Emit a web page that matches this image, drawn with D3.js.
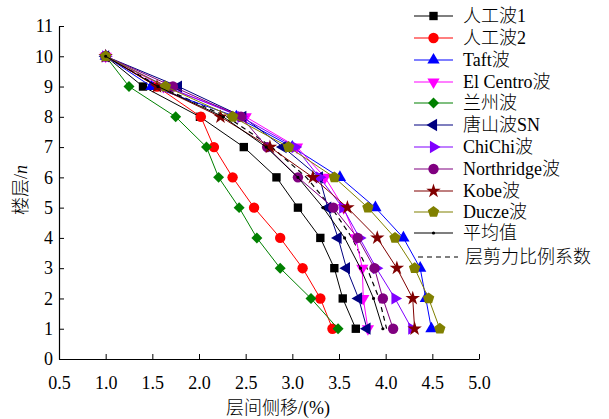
<!DOCTYPE html>
<html>
<head>
<meta charset="utf-8">
<script src="https://cdn.jsdelivr.net/npm/d3@7/dist/d3.min.js"></script>
<style>
  html, body { margin: 0; padding: 0; background: #fff; }
  svg { display: block; }
  text { font-family: "Liberation Serif", "Times New Roman", "Noto Sans CJK SC", serif; fill: #000; }
  .cjk { font-weight: 300; }
</style>
</head>
<body>
<svg id="chart" width="609" height="419"></svg>
<script>
// Storey numbers, top to bottom
const floors = [10, 9, 8, 7, 6, 5, 4, 3, 2, 1];

// Inter-storey drift (%) for each record, listed from floor 10 down to floor 1
const artificial1 = [1.00, 1.40, 2.01, 2.48, 2.83, 3.06, 3.30, 3.45, 3.54, 3.68];
const artificial2 = [1.00, 1.55, 2.02, 2.16, 2.36, 2.59, 2.87, 3.11, 3.30, 3.43];
const taft        = [1.00, 1.49, 2.40, 3.00, 3.51, 3.89, 4.19, 4.37, 4.43, 4.49];
const elCentro    = [1.00, 1.62, 2.50, 3.05, 3.35, 3.55, 3.68, 3.75, 3.76, 3.81];
const lanzhou     = [1.00, 1.25, 1.75, 2.08, 2.21, 2.43, 2.62, 2.87, 3.20, 3.49];
const tangshan    = [1.00, 1.78, 2.47, 2.90, 3.29, 3.38, 3.49, 3.58, 3.71, 3.80];
const chichi      = [1.00, 1.65, 2.45, 3.03, 3.29, 3.54, 3.72, 3.90, 4.10, 4.28];
const northridge  = [1.00, 1.72, 2.45, 2.73, 3.06, 3.44, 3.70, 3.88, 3.97, 4.08];
const kobe        = [1.00, 1.55, 2.23, 2.76, 3.22, 3.59, 3.91, 4.12, 4.29, 4.31];
const ducze       = [1.00, 1.64, 2.36, 2.96, 3.45, 3.81, 4.10, 4.31, 4.46, 4.58];
const average     = [1.00, 1.56, 2.26, 2.72, 3.06, 3.33, 3.56, 3.73, 3.87, 3.97];
const shearRatio  = [1.00, 1.58, 2.30, 2.78, 3.15, 3.42, 3.64, 3.80, 3.93, 4.01];

// Axis ticks
const xTicks = [0.5, 1.0, 1.5, 2.0, 2.5, 3.0, 3.5, 4.0, 4.5, 5.0];
const yTicks = [0, 1, 2, 3, 4, 5, 6, 7, 8, 9, 10, 11];

const svg = d3.select("#chart");

const x = d3.scaleLinear().domain([0.5, 5.0]).range([59, 479]);
const y = d3.scaleLinear().domain([0, 11]).range([359, 26]);

// Regular pentagon marker
const symbolPentagon = {
  draw(ctx, size) {
    const r = Math.sqrt(size / (2.5 * Math.sin(2 * Math.PI / 5)));
    for (let i = 0; i < 5; i++) {
      const a = -Math.PI / 2 + i * 2 * Math.PI / 5;
      const px = r * Math.cos(a), py = r * Math.sin(a);
      if (i === 0) ctx.moveTo(px, py); else ctx.lineTo(px, py);
    }
    ctx.closePath();
  }
};

const series = [
  { name: "人工波1",       values: artificial1, color: "#000000", type: d3.symbolSquare,   size: 70, rot: 0 },
  { name: "人工波2",       values: artificial2, color: "#ff0000", type: d3.symbolCircle,   size: 85, rot: 0 },
  { name: "Taft波",        values: taft,        color: "#0000ff", type: d3.symbolTriangle, size: 65, rot: 0 },
  { name: "El Centro波",   values: elCentro,    color: "#ff00ff", type: d3.symbolTriangle, size: 65, rot: 180 },
  { name: "兰州波",        values: lanzhou,     color: "#008000", type: d3.symbolSquare,   size: 60, rot: 45 },
  { name: "唐山波SN",      values: tangshan,    color: "#000080", type: d3.symbolTriangle, size: 65, rot: -90 },
  { name: "ChiChi波",      values: chichi,      color: "#8000ff", type: d3.symbolTriangle, size: 65, rot: 90 },
  { name: "Northridge波",  values: northridge,  color: "#800080", type: d3.symbolCircle,   size: 85, rot: 0 },
  { name: "Kobe波",        values: kobe,        color: "#800000", type: d3.symbolStar,     size: 65, rot: 0 },
  { name: "Ducze波",       values: ducze,       color: "#808000", type: symbolPentagon,    size: 85, rot: 0 },
  { name: "平均值",        values: average,     color: "#000000", type: d3.symbolCircle,   size: 8,  rot: 0 }
];

const line = d3.line()
  .x(d => x(d.v))
  .y(d => y(d.f));

const plot = svg.append("g");

// Shear-ratio reference curve (dashed, no markers)
plot.append("path")
  .datum(floors.map((f, i) => ({ f, v: shearRatio[i] })))
  .attr("fill", "none")
  .attr("stroke", "#000")
  .attr("stroke-width", 1.2)
  .attr("stroke-dasharray", "5,4")
  .attr("d", line);

series.forEach(s => {
  const pts = floors.map((f, i) => ({ f, v: s.values[i] }));
  const g = plot.append("g");
  g.append("path")
    .datum(pts)
    .attr("fill", "none")
    .attr("stroke", s.color)
    .attr("stroke-width", 1)
    .attr("d", line);
  g.selectAll("path.m")
    .data(pts)
    .join("path")
    .attr("class", "m")
    .attr("d", d3.symbol().type(s.type).size(s.size))
    .attr("transform", d => `translate(${x(d.v)},${y(d.f)}) rotate(${s.rot})`)
    .attr("fill", s.color);
});

// Axes: only left and bottom, ticks pointing into the plot
const xAxis = d3.axisBottom(x).tickValues(xTicks).tickFormat(d3.format(".1f"))
  .tickSizeInner(-5).tickSizeOuter(0).tickPadding(17);
const yAxis = d3.axisLeft(y).tickValues(yTicks).tickFormat(d3.format("d"))
  .tickSizeInner(-5).tickSizeOuter(0).tickPadding(6);

const gx = svg.append("g").attr("transform", "translate(0,359)").call(xAxis);
const gy = svg.append("g").attr("transform", "translate(59,0)").call(yAxis);
[gx, gy].forEach(g => {
  g.select(".domain").attr("stroke", "#000").attr("stroke-width", 1.2);
  g.selectAll(".tick line").attr("stroke", "#000").attr("stroke-width", 1);
  g.selectAll(".tick text").attr("font-size", 18)
    .style("font-family", '"Liberation Serif", "Times New Roman", serif');
});

// Axis titles
svg.append("text")
  .attr("class", "cjk")
  .attr("x", 278).attr("y", 414)
  .attr("text-anchor", "middle")
  .attr("font-size", 18)
  .text("层间侧移/(%)");

const yt = svg.append("text")
  .attr("class", "cjk")
  .attr("transform", "translate(27,190) rotate(-90)")
  .attr("text-anchor", "middle")
  .attr("font-size", 18);
yt.append("tspan").text("楼层/");
yt.append("tspan").attr("font-style", "italic").text("n");

// Legend
const legend = svg.append("g");
const rowY = [16, 38, 60, 82, 103, 125, 147, 169, 191, 212, 233];
series.forEach((s, i) => {
  const g = legend.append("g").attr("transform", `translate(0,${rowY[i]})`);
  g.append("line")
    .attr("x1", 414).attr("x2", 453).attr("y1", 0).attr("y2", 0)
    .attr("stroke", s.color).attr("stroke-width", 1.2);
  g.append("path")
    .attr("d", d3.symbol().type(s.type).size(s.size))
    .attr("transform", `translate(433.5,0) rotate(${s.rot})`)
    .attr("fill", s.color);
  g.append("text")
    .attr("class", "cjk")
    .attr("x", 463).attr("y", 0).attr("dy", "0.35em")
    .attr("font-size", 18)
    .text(s.name);
});
const dl = legend.append("g").attr("transform", "translate(0,257)");
dl.append("line")
  .attr("x1", 418).attr("x2", 458).attr("y1", 0).attr("y2", 0)
  .attr("stroke", "#000").attr("stroke-width", 1.2)
  .attr("stroke-dasharray", "5,4");
dl.append("text")
  .attr("class", "cjk")
  .attr("x", 465).attr("y", 0).attr("dy", "0.35em")
  .attr("font-size", 18)
  .text("层剪力比例系数");
</script>
</body>
</html>
